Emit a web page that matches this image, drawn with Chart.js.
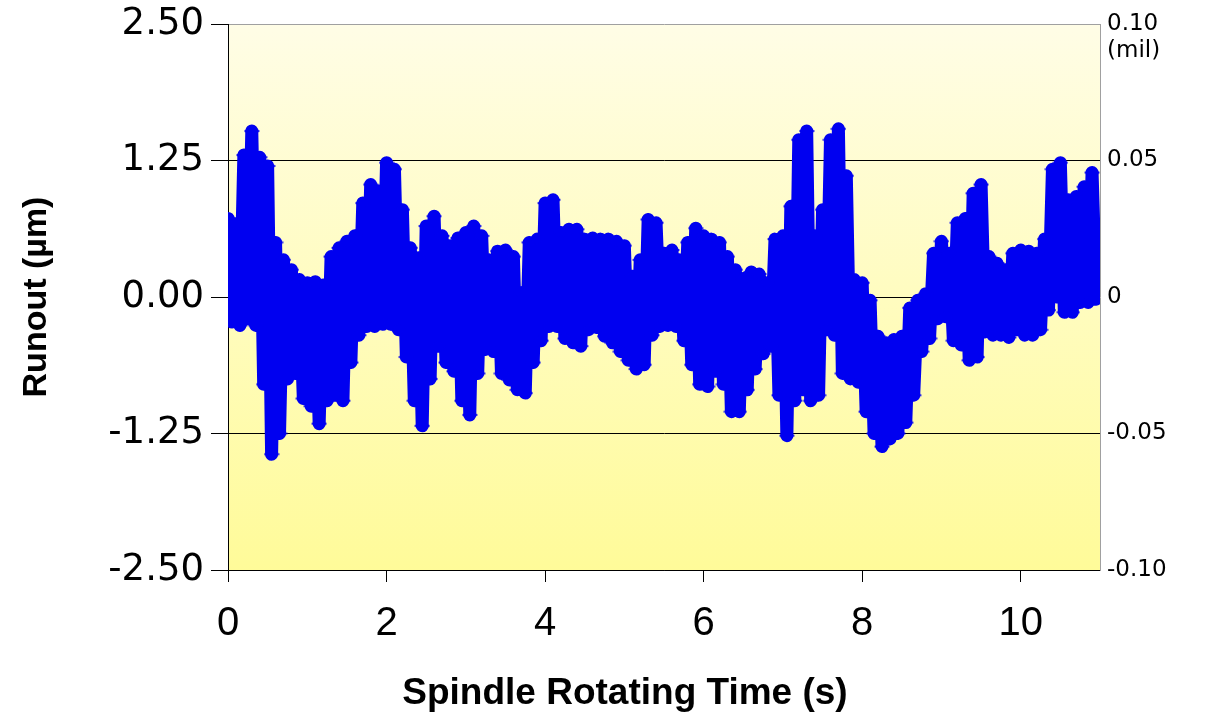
<!DOCTYPE html>
<html>
<head>
<meta charset="utf-8">
<script src="https://cdn.jsdelivr.net/npm/chart.js@4.4.1/dist/chart.umd.min.js"></script>
<style>
  html, body { margin: 0; padding: 0; background: #fff; }
  #wrap { width: 1207px; height: 716px; }
</style>
</head>
<body>
<div id="wrap"><canvas id="runout" width="1207" height="716"></canvas></div>
<script>
const peakTimes = [
  0.0, 0.1, 0.2, 0.3, 0.4, 0.5, 0.6, 0.7, 0.8, 0.9,
  1.0, 1.1, 1.2, 1.3, 1.4, 1.5, 1.6, 1.7, 1.8, 1.9,
  2.0, 2.1, 2.2, 2.3, 2.4, 2.5, 2.6, 2.7, 2.8, 2.9,
  3.0, 3.1, 3.2, 3.3, 3.4, 3.5, 3.6, 3.7, 3.8, 3.9,
  4.0, 4.1, 4.2, 4.3, 4.4, 4.5, 4.6, 4.7, 4.8, 4.9,
  5.0, 5.1, 5.2, 5.3, 5.4, 5.5, 5.6, 5.7, 5.8, 5.9,
  6.0, 6.1, 6.2, 6.3, 6.4, 6.5, 6.6, 6.7, 6.8, 6.9,
  7.0, 7.1, 7.2, 7.3, 7.4, 7.5, 7.6, 7.7, 7.8, 7.9,
  8.0, 8.1, 8.2, 8.3, 8.4, 8.5, 8.6, 8.7, 8.8, 8.9,
  9.0, 9.1, 9.2, 9.3, 9.4, 9.5, 9.6, 9.7, 9.8, 9.9,
  10.0, 10.1, 10.2, 10.3, 10.4, 10.5, 10.6, 10.7, 10.8, 10.9
];
const peakRunout = [
  0.72, 0.67, 1.30, 1.52, 1.28, 1.20, 0.50, 0.34, 0.25, 0.16,
  0.13, 0.14, 0.11, 0.37, 0.45, 0.51, 0.56, 0.86, 1.03, 0.97,
  1.23, 1.17, 0.80, 0.45, 0.36, 0.65, 0.74, 0.56, 0.47, 0.54,
  0.59, 0.65, 0.56, 0.34, 0.42, 0.43, 0.37, 0.04, 0.50, 0.53,
  0.86, 0.89, 0.59, 0.62, 0.62, 0.53, 0.54, 0.53, 0.53, 0.51,
  0.47, 0.19, 0.34, 0.71, 0.68, 0.40, 0.43, 0.34, 0.50, 0.63,
  0.56, 0.53, 0.50, 0.37, 0.25, 0.17, 0.23, 0.21, 0.13, 0.53,
  0.56, 0.83, 1.44, 1.52, 0.56, 0.80, 1.44, 1.54, 1.11, 0.16,
  0.13, -0.03, -0.36, -0.42, -0.39, -0.36, -0.10, -0.03, 0.03, 0.40,
  0.51, 0.40, 0.68, 0.72, 0.95, 1.03, 0.37, 0.31, 0.25, 0.40,
  0.43, 0.42, 0.40, 0.53, 1.17, 1.23, 0.89, 0.92, 1.01, 1.14
];
const troughTimes = [
  0.05, 0.15, 0.25, 0.35, 0.45, 0.55, 0.65, 0.75, 0.85, 0.95,
  1.05, 1.15, 1.25, 1.35, 1.45, 1.55, 1.65, 1.75, 1.85, 1.95,
  2.05, 2.15, 2.25, 2.35, 2.45, 2.55, 2.65, 2.75, 2.85, 2.95,
  3.05, 3.15, 3.25, 3.35, 3.45, 3.55, 3.65, 3.75, 3.85, 3.95,
  4.05, 4.15, 4.25, 4.35, 4.45, 4.55, 4.65, 4.75, 4.85, 4.95,
  5.05, 5.15, 5.25, 5.35, 5.45, 5.55, 5.65, 5.75, 5.85, 5.95,
  6.05, 6.15, 6.25, 6.35, 6.45, 6.55, 6.65, 6.75, 6.85, 6.95,
  7.05, 7.15, 7.25, 7.35, 7.45, 7.55, 7.65, 7.75, 7.85, 7.95,
  8.05, 8.15, 8.25, 8.35, 8.45, 8.55, 8.65, 8.75, 8.85, 8.95,
  9.05, 9.15, 9.25, 9.35, 9.45, 9.55, 9.65, 9.75, 9.85, 9.95,
  10.05, 10.15, 10.25, 10.35, 10.45, 10.55, 10.65, 10.75, 10.85, 10.95
];
const troughRunout = [
  -0.23, -0.26, -0.20, -0.26, -0.80, -1.44, -1.25, -0.75, -0.70, -0.93,
  -1.00, -1.16, -0.95, -0.90, -0.95, -0.60, -0.35, -0.27, -0.27, -0.25,
  -0.25, -0.30, -0.55, -0.95, -1.18, -0.75, -0.45, -0.60, -0.68, -0.95,
  -1.08, -0.70, -0.48, -0.50, -0.70, -0.76, -0.85, -0.88, -0.60, -0.40,
  -0.27, -0.27, -0.38, -0.42, -0.45, -0.30, -0.28, -0.36, -0.42, -0.50,
  -0.58, -0.66, -0.62, -0.35, -0.27, -0.26, -0.27, -0.40, -0.62, -0.80,
  -0.82, -0.68, -0.80, -1.05, -1.05, -0.85, -0.66, -0.52, -0.45, -0.90,
  -1.27, -0.95, -0.85, -0.95, -0.90, -0.30, -0.35, -0.70, -0.75, -0.78,
  -1.05, -1.25, -1.37, -1.30, -1.25, -1.15, -0.90, -0.50, -0.38, -0.20,
  -0.18, -0.40, -0.44, -0.58, -0.55, -0.32, -0.35, -0.35, -0.37, -0.30,
  -0.35, -0.35, -0.30, -0.12, 0.00, -0.14, -0.14, -0.05, -0.05, -0.02
];

const xTicks = [0, 2, 4, 6, 8, 10];
const umTicks = [-2.5, -1.25, 0, 1.25, 2.5];
const milTicks = [-0.1, -0.05, 0, 0.05, 0.09, 0.1];
const milLabels = ['-0.10', '-0.05', '0', '0.05', '(mil)', '0.10'];
const xTitle = 'Spindle Rotating Time (s)';
const yTitle = 'Runout (µm)';

const SANS = "'Liberation Sans', Arial, sans-serif";
const WIDE = "'DejaVu Sans', Verdana, sans-serif";
const BLUE = '#0000f0';

// interleave peaks and troughs into one time series
const points = [];
peakTimes.forEach((t, i) => {
  points.push({ x: t, y: peakRunout[i] });
  points.push({ x: troughTimes[i], y: troughRunout[i] });
});

// flat diamond marker like the spreadsheet's
const marker = document.createElement('canvas');
marker.width = 16;
marker.height = 12;
(() => {
  const m = marker.getContext('2d');
  m.fillStyle = BLUE;
  m.beginPath();
  m.moveTo(8, 0);
  m.lineTo(16, 6);
  m.lineTo(8, 12);
  m.lineTo(0, 6);
  m.closePath();
  m.fill();
})();

const plotBackground = {
  id: 'plotBackground',
  beforeDraw(chart) {
    const { ctx, chartArea: a } = chart;
    const g = ctx.createLinearGradient(0, a.top, 0, a.bottom);
    g.addColorStop(0, '#fffde6');
    g.addColorStop(1, '#fffb99');
    ctx.save();
    ctx.fillStyle = g;
    ctx.fillRect(a.left, a.top, a.right - a.left, a.bottom - a.top);
    ctx.restore();
  }
};

// x title sits left of the plot centre in the original
const xTitlePlugin = {
  id: 'xTitlePlugin',
  afterDraw(chart) {
    const ctx = chart.ctx;
    ctx.save();
    ctx.font = 'bold 37px ' + SANS;
    ctx.fillStyle = '#000';
    ctx.textAlign = 'center';
    ctx.textBaseline = 'middle';
    ctx.fillText(xTitle, 625, 694);
    ctx.restore();
  }
};

new Chart(document.getElementById('runout'), {
  type: 'scatter',
  data: {
    datasets: [{
      data: points,
      showLine: true,
      borderColor: BLUE,
      backgroundColor: BLUE,
      borderWidth: 13,
      borderJoinStyle: 'round',
      borderCapStyle: 'round',
      pointStyle: marker,
      pointRadius: 8,
      pointBorderWidth: 0,
      tension: 0
    }]
  },
  options: {
    responsive: false,
    animation: false,
    devicePixelRatio: 1,
    layout: { padding: { top: 24, left: 0, right: 0, bottom: 0 } },
    plugins: { legend: { display: false }, tooltip: { enabled: false } },
    scales: {
      x: {
        type: 'linear',
        min: 0,
        max: 11,
        afterBuildTicks: s => { s.ticks = xTicks.map(v => ({ value: v })); },
        afterFit: s => { s.height = 146; s.paddingLeft = 0; s.paddingRight = 0; },
        grid: { drawOnChartArea: false, drawTicks: true, tickLength: 12, tickColor: '#000' },
        border: { color: '#000', width: 1 },
        ticks: { color: '#000', font: { family: SANS, size: 40 }, padding: 18, maxRotation: 0 },
        title: { display: false }
      },
      y: {
        position: 'left',
        min: -2.5,
        max: 2.5,
        afterBuildTicks: s => { s.ticks = umTicks.map(v => ({ value: v })); },
        afterFit: s => { s.width = 228; s.paddingTop = 0; s.paddingBottom = 0; },
        grid: {
          color: ctx => (ctx.tick && ctx.tick.value === 2.5 ? '#a0a0a0' : '#000'),
          tickColor: '#000',
          tickLength: 17,
          lineWidth: 1
        },
        border: { color: '#000', width: 1 },
        ticks: {
          color: '#000',
          font: { family: WIDE, size: 37 },
          padding: 7,
          callback: v => v.toFixed(2)
        },
        title: {
          display: true,
          text: yTitle,
          color: '#000',
          font: { family: SANS, size: 34, weight: 'bold' },
          padding: { top: 16, bottom: 0 }
        }
      },
      mil: {
        position: 'right',
        min: -0.1,
        max: 0.1,
        afterBuildTicks: s => { s.ticks = milTicks.map(v => ({ value: v })); },
        afterFit: s => { s.width = 107; s.paddingTop = 0; s.paddingBottom = 0; },
        grid: { drawOnChartArea: false, drawTicks: false },
        border: { color: '#a0a0a0', width: 1 },
        ticks: {
          color: '#000',
          font: { family: WIDE, size: 23 },
          padding: 7,
          callback: (v, i) => milLabels[i]
        }
      }
    }
  },
  plugins: [plotBackground, xTitlePlugin]
});
</script>
</body>
</html>
